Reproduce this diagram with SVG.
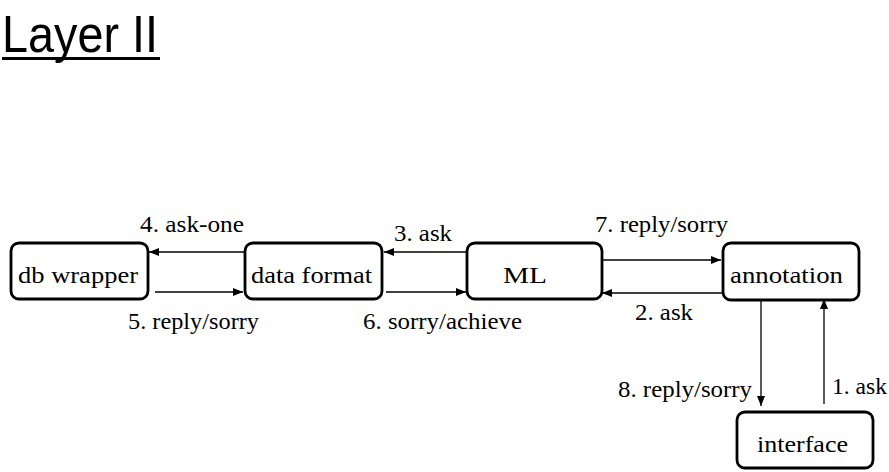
<svg xmlns="http://www.w3.org/2000/svg" width="889" height="472" viewBox="0 0 889 472">
<style>
.box{fill:#fff;stroke:#000;stroke-width:2.8}
.c{stroke:#000;stroke-width:1.3;fill:none}
text{font-family:"Liberation Serif","DejaVu Serif",serif;font-size:24px;fill:#000}
</style>
<defs>
<marker id="ah" viewBox="0 0 10 8" refX="10" refY="4" markerWidth="10" markerHeight="8" markerUnits="userSpaceOnUse" orient="auto">
<path d="M0,0 L10,4 L0,8 Z" fill="#000"/>
</marker>
</defs>
<rect width="889" height="472" fill="#fff"/>
<g id="title">
<text x="2" y="52" style="font-family:'Liberation Sans',Arial,sans-serif;font-size:52px" textLength="156" lengthAdjust="spacingAndGlyphs">Layer II</text>
<rect x="2" y="57" width="158" height="3" fill="#000"/>
</g>
<g id="connectors">
<line class="c" x1="244" y1="252" x2="149" y2="252" marker-end="url(#ah)"/>
<line class="c" x1="155" y1="292" x2="243" y2="292" marker-end="url(#ah)"/>
<line class="c" x1="467" y1="252" x2="384" y2="252" marker-end="url(#ah)"/>
<line class="c" x1="386" y1="292" x2="466" y2="292" marker-end="url(#ah)"/>
<line class="c" x1="603" y1="260" x2="721" y2="260" marker-end="url(#ah)"/>
<line class="c" x1="723" y1="293" x2="602" y2="293" marker-end="url(#ah)"/>
<line class="c" x1="761" y1="301" x2="761" y2="406" marker-end="url(#ah)"/>
<line class="c" x1="824" y1="404" x2="824" y2="299" marker-end="url(#ah)"/>
<text x="140" y="232" textLength="104" lengthAdjust="spacingAndGlyphs">4. ask-one</text>
<text x="128" y="329" textLength="131" lengthAdjust="spacingAndGlyphs">5. reply/sorry</text>
<text x="394" y="241" textLength="58" lengthAdjust="spacingAndGlyphs">3. ask</text>
<text x="363" y="329" textLength="159" lengthAdjust="spacingAndGlyphs">6. sorry/achieve</text>
<text x="595" y="232" textLength="133" lengthAdjust="spacingAndGlyphs">7. reply/sorry</text>
<text x="635" y="320" textLength="58" lengthAdjust="spacingAndGlyphs">2. ask</text>
<text x="618" y="397" textLength="134" lengthAdjust="spacingAndGlyphs">8. reply/sorry</text>
<text x="832" y="394" textLength="55" lengthAdjust="spacingAndGlyphs">1. ask</text>
</g>
<g id="db-wrapper">
<rect class="box" x="11" y="243" width="137" height="56" rx="8"/>
<text x="18" y="283" textLength="120" lengthAdjust="spacingAndGlyphs">db wrapper</text>
</g>
<g id="data-format">
<rect class="box" x="245" y="243" width="137" height="56" rx="8"/>
<text x="251" y="283" textLength="121" lengthAdjust="spacingAndGlyphs">data format</text>
</g>
<g id="ml">
<rect class="box" x="467" y="243" width="135" height="56" rx="8"/>
<text x="503" y="283" textLength="44" lengthAdjust="spacingAndGlyphs">ML</text>
</g>
<g id="annotation">
<rect class="box" x="723" y="243" width="136" height="57" rx="8"/>
<text x="730" y="283" textLength="113" lengthAdjust="spacingAndGlyphs">annotation</text>
</g>
<g id="interface">
<rect class="box" x="737" y="412" width="136" height="56" rx="8"/>
<text x="757" y="452" textLength="91" lengthAdjust="spacingAndGlyphs">interface</text>
</g>
</svg>
